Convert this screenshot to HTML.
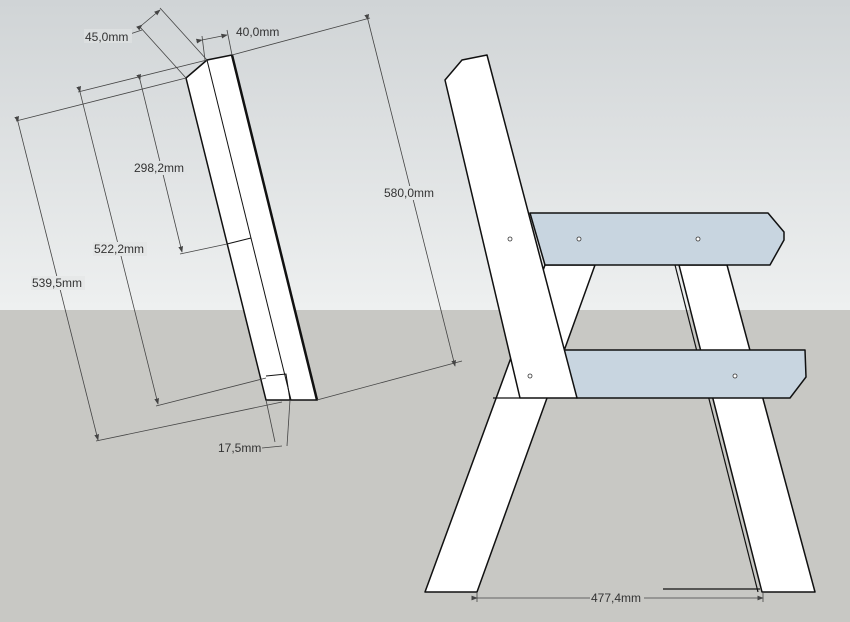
<!DOCTYPE html>
<html><head><style>
html,body{margin:0;padding:0;width:850px;height:622px;overflow:hidden;}
svg{display:block}
text{font-family:"Liberation Sans",sans-serif;font-size:12px;fill:#333}
</style></head><body>
<svg width="850" height="622" viewBox="0 0 850 622" xmlns="http://www.w3.org/2000/svg">
<defs>
<linearGradient id="sky" x1="0" y1="0" x2="0" y2="1">
<stop offset="0" stop-color="#d0d4d6"/><stop offset="1" stop-color="#eef0f0"/>
</linearGradient>
<marker id="ar" markerWidth="8" markerHeight="6" refX="7" refY="3" orient="auto"><path d="M0,0 L8,3 L0,6 z" fill="#444"/></marker>
</defs>
<rect x="0" y="0" width="850" height="310" fill="url(#sky)"/>
<rect x="0" y="310" width="850" height="312" fill="#c8c8c4"/>

<g stroke="#111" stroke-width="1.5" fill="#fff">
<polygon points="186,78 207,60 232,55 317,400 266,400"/>
</g>
<g stroke="#111" stroke-width="1" fill="none">
<line x1="207" y1="60" x2="291" y2="400"/>
<line x1="227" y1="244" x2="251" y2="238"/>
<line x1="232" y1="55" x2="317" y2="400" stroke-width="2.5"/>
<polyline points="266,376 286,374 290,400"/>
</g>
<g stroke="#444" stroke-width="0.8" fill="none">
<line x1="186" y1="78" x2="140" y2="27"/>
<line x1="207" y1="60" x2="160" y2="8"/>
<line x1="142" y1="25" x2="160" y2="10" marker-start="url(#ar)" marker-end="url(#ar)"/>
<line x1="130" y1="34" x2="142" y2="30"/>
<line x1="205" y1="60" x2="202" y2="36"/>
<line x1="232" y1="55" x2="227" y2="30"/>
<line x1="202" y1="40" x2="227" y2="35" marker-start="url(#ar)" marker-end="url(#ar)"/>
<line x1="232" y1="55" x2="370" y2="18"/>
<line x1="368" y1="20" x2="455" y2="366" marker-start="url(#ar)" marker-end="url(#ar)"/>
<line x1="317" y1="400" x2="462" y2="361"/>
<line x1="207" y1="60" x2="78" y2="92"/>
<line x1="186" y1="78" x2="16" y2="121"/>
<line x1="140" y1="80" x2="182" y2="252" marker-start="url(#ar)" marker-end="url(#ar)"/>
<line x1="180" y1="254" x2="227" y2="244"/>
<line x1="80" y1="92" x2="158" y2="404" marker-start="url(#ar)" marker-end="url(#ar)"/>
<line x1="156" y1="406" x2="266" y2="378"/>
<line x1="18" y1="122" x2="98" y2="440" marker-start="url(#ar)" marker-end="url(#ar)"/>
<line x1="96" y1="441" x2="282" y2="402"/>
<line x1="266" y1="400" x2="275" y2="442"/>
<line x1="290" y1="400" x2="287" y2="446"/>
<line x1="262" y1="448" x2="282" y2="446"/>
</g>
<g>
<rect x="84" y="29" width="48" height="14" fill="#dcdfe0"/>
<text x="85" y="41">45,0mm</text>
<text x="236" y="36">40,0mm</text>
<rect x="383" y="186" width="56" height="14" fill="#e2e5e5"/>
<text x="384" y="197">580,0mm</text>
<rect x="133" y="161" width="54" height="14" fill="#e0e3e4"/>
<text x="134" y="172">298,2mm</text>
<rect x="93" y="242" width="54" height="14" fill="#e4e6e6"/>
<text x="94" y="253">522,2mm</text>
<rect x="31" y="276" width="54" height="14" fill="#e6e8e8"/>
<text x="32" y="287">539,5mm</text>
<text x="218" y="452">17,5mm</text>
</g>

<g stroke="#111" stroke-width="1.5" fill="#fff" stroke-linejoin="round">
<polygon points="679,265 727,265 815,592 762,592"/>
<line x1="675" y1="265" x2="758" y2="592" stroke-width="1.2"/>
<polygon points="545,265 595,265 477,592 425,592"/>
<polygon points="530,213 768,213 784,232 784,240 770,265 545,265" fill="#c8d5e0"/>
<polygon points="555,350 805,350 806,377 790,398 577,398" fill="#c8d5e0"/>
<polygon points="445,80 462,60 487,55 577,398 520,398"/>
<line x1="493" y1="398" x2="520" y2="398" stroke-width="1.2"/>
</g>
<g fill="#fff" stroke="#333" stroke-width="0.8">
<circle cx="510" cy="239" r="2"/><circle cx="579" cy="239" r="2"/><circle cx="698" cy="239" r="2"/>
<circle cx="530" cy="376" r="2"/><circle cx="735" cy="376" r="2"/>
</g>
<g stroke="#444" stroke-width="0.8" fill="none">
<line x1="477" y1="598" x2="763" y2="598" marker-start="url(#ar)" marker-end="url(#ar)"/>
<line x1="477" y1="592" x2="477" y2="602"/>
<line x1="763" y1="592" x2="763" y2="602"/>
<line x1="663" y1="589" x2="760" y2="589" stroke="#111" stroke-width="1.2"/>
</g>
<rect x="590" y="591" width="54" height="14" fill="#c8c8c4"/>
<text x="591" y="602">477,4mm</text>
</svg>
</body></html>
